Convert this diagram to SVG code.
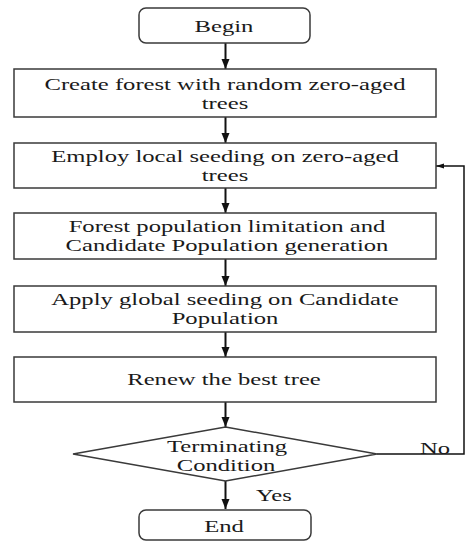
<svg xmlns="http://www.w3.org/2000/svg" width="466" height="541" viewBox="0 0 466 541">
  <style>
    .box { fill: #ffffff; stroke: #3a3a3a; stroke-width: 1.5; }
    .t { font-family: "Liberation Serif", "Times New Roman", serif; font-size: 17px; fill: #1a1a1a; text-anchor: middle; }
    .ts { font-family: "Liberation Serif", "Times New Roman", serif; font-size: 17px; fill: #1a1a1a; text-anchor: start; }
    .arrow { fill: none; stroke: #111111; stroke-width: 2; }
    .fb { fill: none; stroke: #111111; stroke-width: 1.5; }
  </style>
  <defs>
    <marker id="ah" markerUnits="userSpaceOnUse" markerWidth="10" markerHeight="10" viewBox="0 0 10 10" refX="10" refY="5" orient="auto">
      <path d="M0,1 L10,5 L0,9 Z" fill="#111111"/>
    </marker>
    <marker id="ahs" markerUnits="userSpaceOnUse" markerWidth="8" markerHeight="6" viewBox="0 0 8 6" refX="8" refY="3" orient="auto">
      <path d="M0,0.5 L8,3 L0,5.5 Z" fill="#111111"/>
    </marker>
  </defs>

  <g id="connectors">
    <line class="arrow" x1="225.5" y1="43" x2="225.5" y2="69" marker-end="url(#ah)"/>
    <line class="arrow" x1="225.5" y1="117" x2="225.5" y2="143" marker-end="url(#ah)"/>
    <line class="arrow" x1="225.5" y1="188" x2="225.5" y2="213" marker-end="url(#ah)"/>
    <line class="arrow" x1="225.5" y1="259" x2="225.5" y2="286" marker-end="url(#ah)"/>
    <line class="arrow" x1="225.5" y1="332" x2="225.5" y2="357" marker-end="url(#ah)"/>
    <line class="arrow" x1="225.5" y1="402" x2="225.5" y2="427" marker-end="url(#ah)"/>
    <line class="arrow" x1="225.5" y1="481" x2="225.5" y2="509" marker-end="url(#ah)"/>
    <polyline class="fb" points="377,454 464,454 464,166 436,166" marker-end="url(#ahs)"/>
    <text class="ts" transform="translate(256,501) scale(1.45,1)">Yes</text>
    <text class="ts" transform="translate(420,454) scale(1.45,1)">No</text>
  </g>

  <g id="begin">
    <rect class="box" x="139" y="8" width="171" height="35" rx="7"/>
    <text class="t" transform="translate(224,32) scale(1.45,1)">Begin</text>
  </g>

  <g id="create">
    <rect class="box" x="14" y="69" width="422" height="48"/>
    <text class="t" transform="translate(225,90) scale(1.45,1)">Create forest with random zero-aged</text>
    <text class="t" transform="translate(225,109) scale(1.45,1)">trees</text>
  </g>

  <g id="local">
    <rect class="box" x="14" y="143" width="422" height="45"/>
    <text class="t" transform="translate(225,162) scale(1.45,1)">Employ local seeding on zero-aged</text>
    <text class="t" transform="translate(225,181) scale(1.45,1)">trees</text>
  </g>

  <g id="limit">
    <rect class="box" x="14" y="213" width="422" height="46"/>
    <text class="t" transform="translate(227,231.5) scale(1.45,1)">Forest population limitation and</text>
    <text class="t" transform="translate(227,250.5) scale(1.45,1)">Candidate Population generation</text>
  </g>

  <g id="global">
    <rect class="box" x="14" y="286" width="422" height="46"/>
    <text class="t" transform="translate(225,305) scale(1.45,1)">Apply global seeding on Candidate</text>
    <text class="t" transform="translate(225,324) scale(1.45,1)">Population</text>
  </g>

  <g id="renew">
    <rect class="box" x="14" y="357" width="422" height="45"/>
    <text class="t" transform="translate(224,385) scale(1.45,1)">Renew the best tree</text>
  </g>

  <g id="terminate">
    <polygon class="box" points="225.5,427 377,454 225.5,481 73,454"/>
    <text class="t" transform="translate(227,451.5) scale(1.45,1)">Terminating</text>
    <text class="t" transform="translate(226,470.5) scale(1.45,1)">Condition</text>
  </g>

  <g id="end">
    <rect class="box" x="139" y="510" width="172" height="30" rx="7"/>
    <text class="t" transform="translate(224,532) scale(1.45,1)">End</text>
  </g>
</svg>
